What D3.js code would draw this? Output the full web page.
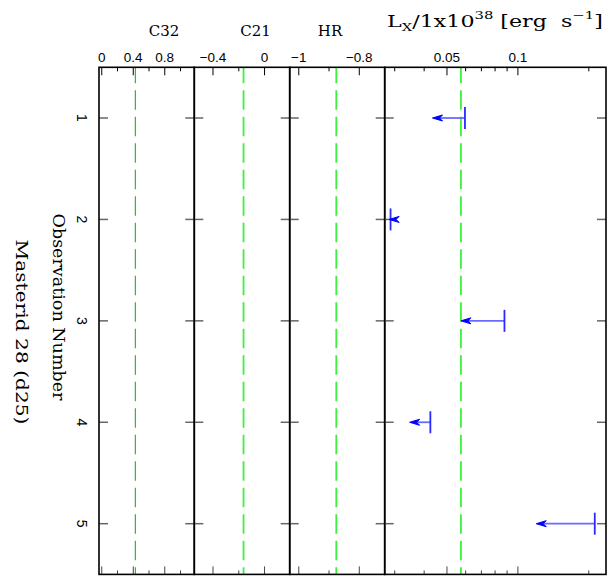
<!DOCTYPE html>
<html><head><meta charset="utf-8">
<script src="https://cdn.jsdelivr.net/npm/d3@7"></script>
<style>body{margin:0;background:#fff}</style>
</head><body>
<svg id="c" width="613" height="577"></svg>
<script>
// ---- data ----
const observations = [1, 2, 3, 4, 5];
const obsLabels = ["1", "2", "3", "4", "5"];
const lxUpperLimit = [0.0596, 0.0288, 0.0877, 0.0425, 0.212];
const lxArrowTip = [0.0434, 0.0284, 0.0573, 0.0347, 0.1196];
const c32Ref = 0.427, c21Ref = -0.163, hrRef = -0.876, lxRef = 0.0573;
const c32Ticks = [0, 0.4, 0.8], c32Minor = [0.2, 0.6, 1.0];
const c21Ticks = [-0.4, 0], c21Minor = [-0.2];
const hrTicks = [-1, -0.8], hrMinor = [-0.9];
const lxTicks = [0.05, 0.1], lxMinor = [0.03, 0.04, 0.06, 0.07, 0.08, 0.09, 0.2];

const svg = d3.select("#c");
const yTop = 67.3, yBot = 574.4;
const y = d3.scaleLinear().domain([0.5, 5.5]).range([yTop, yBot]);
const fmt = v => (v < 0 ? "\u2212" : "") + String(Math.abs(v));
const SERIF = "'DejaVu Serif', serif";

const panels = [
  {title: "C32", tx: 164, x: d3.scaleLinear().domain([-0.035, 1.175]).range([99, 194.3]), ticks: c32Ticks, minor: c32Minor, ref: c32Ref, refColor: "#22c422", refW: 1.2},
  {title: "C21", tx: 255.5, x: d3.scaleLinear().domain([-0.545, 0.195]).range([194.3, 289.7]), ticks: c21Ticks, minor: c21Minor, ref: c21Ref, refColor: "#3ef03e", refW: 1.8},
  {title: "HR", tx: 330, x: d3.scaleLinear().domain([-1.03, -0.716]).range([289.7, 384.7]), ticks: hrTicks, minor: hrMinor, ref: hrRef, refColor: "#3ef03e", refW: 1.8},
  {title: null, x: d3.scaleLog().domain([0.0272, 0.2366]).range([384.7, 606]), ticks: lxTicks, minor: lxMinor, ref: lxRef, refColor: "#3ef03e", refW: 1.8, fmtT: v => (v === 0.05 ? "0.05" : "0.1")}
];

panels.forEach(p => {
  const [x0, x1] = p.x.range();
  const g = svg.append("g");
  g.append("line").attr("x1", p.x(p.ref)).attr("x2", p.x(p.ref)).attr("y1", yTop).attr("y2", yBot)
    .attr("stroke", p.refColor).attr("stroke-width", p.refW).attr("stroke-dasharray", "19.5,7").attr("stroke-dashoffset", 3.6);
  const all = p.ticks.map(v => ({v, len: 8})).concat(p.minor.map(v => ({v, len: 4})));
  all.forEach(t => {
    const xx = p.x(t.v);
    g.append("line").attr("x1", xx).attr("x2", xx).attr("y1", yTop).attr("y2", yTop + t.len).attr("stroke", "#000").attr("stroke-width", 1);
    g.append("line").attr("x1", xx).attr("x2", xx).attr("y1", yBot).attr("y2", yBot - t.len).attr("stroke", "#444").attr("stroke-width", 1);
  });
  p.ticks.forEach(v => {
    g.append("text").attr("x", p.x(v)).attr("y", 61.5).attr("text-anchor", "middle")
      .attr("font-family", "'Liberation Sans', Arial, sans-serif").attr("font-size", 13.5)
      .text(p.fmtT ? p.fmtT(v) : fmt(v));
  });
  observations.forEach(o => {
    g.append("line").attr("x1", x0).attr("x2", x0 + 9).attr("y1", y(o)).attr("y2", y(o)).attr("stroke", "#666").attr("stroke-width", 1.5);
    g.append("line").attr("x1", x1 - 9).attr("x2", x1).attr("y1", y(o)).attr("y2", y(o)).attr("stroke", "#666").attr("stroke-width", 1.5);
  });
  g.append("rect").attr("x", x0).attr("y", yTop).attr("width", x1 - x0).attr("height", yBot - yTop)
    .attr("fill", "none").attr("stroke", "#000").attr("stroke-width", 1.6);
  if (p.title) {
    g.append("text").attr("x", p.tx).attr("y", 36).attr("text-anchor", "middle")
      .attr("font-family", SERIF).attr("font-size", 15).text(p.title);
  }
});

// Lx upper limits
const lx = panels[3].x;
const ag = svg.append("g");
observations.forEach((o, i) => {
  const xb = lx(lxUpperLimit[i]), xt = lx(lxArrowTip[i]), yy = y(o);
  ag.append("line").attr("x1", xb).attr("x2", Math.min(xb, xt + 7)).attr("y1", yy).attr("y2", yy)
    .attr("stroke", "#6a6aff").attr("stroke-width", 1.8);
  ag.append("line").attr("x1", xb).attr("x2", xb).attr("y1", yy - 11).attr("y2", yy + 11)
    .attr("stroke", "#2a2aff").attr("stroke-width", 1.8);
  ag.append("path").attr("d", `M${xt},${yy} L${xt + 10},${yy - 3} L${xt + 7},${yy} L${xt + 10},${yy + 3} Z`)
    .attr("fill", "#0000ff").attr("stroke", "#0000ff").attr("stroke-width", 1);
});

// Lx title
const t = svg.append("text").attr("x", 387).attr("y", 27).attr("font-family", SERIF).attr("font-size", 16.5);
t.append("tspan").text("L");
t.append("tspan").attr("font-size", 11).attr("dy", 4).text("X");
t.append("tspan").attr("dy", -4).text("/1x10");
t.append("tspan").attr("font-size", 11).attr("dy", -8).text("38");
t.append("tspan").attr("dy", 8).text("\u00a0[erg\u00a0\u00a0s");
t.append("tspan").attr("font-size", 11).attr("dy", -8).text("\u22121");
t.append("tspan").attr("dy", 8).text("]");
const tw = t.node().getComputedTextLength();
const target = 216;
t.attr("transform", `translate(387,27) scale(${target / tw},1) translate(-387,-27)`);

// y tick labels (rotated)
observations.forEach((o, i) => {
  svg.append("text").attr("transform", `translate(77,${y(o)}) rotate(90)`).attr("text-anchor", "middle")
    .attr("font-family", "'Liberation Sans', Arial, sans-serif").attr("font-size", 14).text(obsLabels[i]);
});

// left labels
function fitLabel(txt, x, yc, len, size) {
  const el = svg.append("text").attr("text-anchor", "middle")
    .attr("font-family", SERIF).attr("font-size", size).text(txt);
  const w = el.node().getComputedTextLength();
  el.attr("transform", `translate(${x},${yc}) rotate(90) scale(${len / w},1)`);
}
fitLabel("Observation Number", 53, 307, 187, 16.5);
fitLabel("Masterid 28 (d25)", 16, 332, 185, 16.5);
</script>
</body></html>
